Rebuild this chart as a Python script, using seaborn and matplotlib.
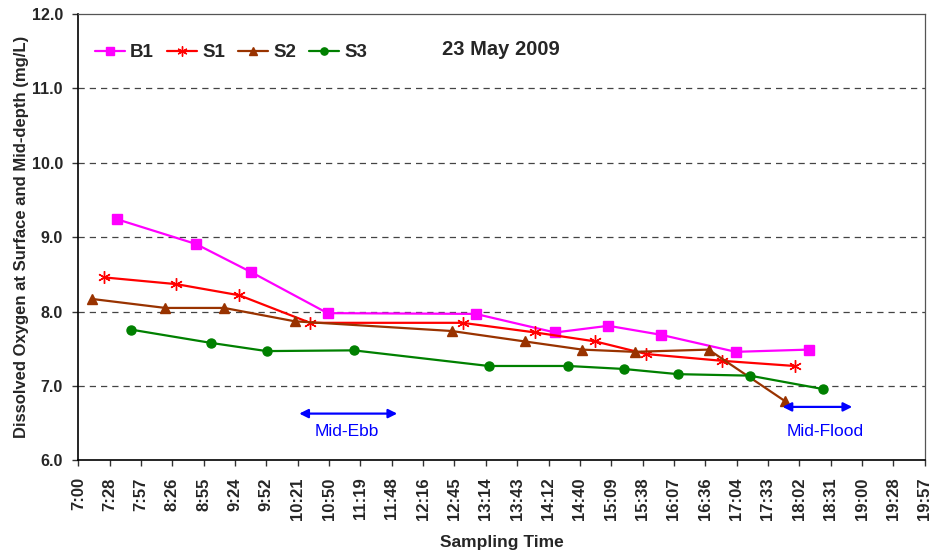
import numpy as np
import pandas as pd
import seaborn as sns
import matplotlib.pyplot as plt

sns.set_style("white")
plt.rcParams['font.family'] = ['Liberation Sans', 'DejaVu Sans']

# sampling times and dissolved oxygen (mg/L) per station
b1_time = ["7:36", "8:48", "9:39", "10:49", "13:05", "14:18", "15:07", "15:55", "17:04", "18:11"]
b1_do = [9.24, 8.91, 8.53, 7.98, 7.97, 7.72, 7.81, 7.69, 7.46, 7.49]
s1_time = ["7:24", "8:30", "9:28", "10:33", "12:53", "14:00", "14:55", "15:42", "16:51", "17:58"]
s1_do = [8.46, 8.37, 8.22, 7.85, 7.85, 7.72, 7.60, 7.43, 7.34, 7.27]
s2_time = ["7:13", "8:20", "9:14", "10:19", "12:43", "13:50", "14:43", "15:31", "16:39", "17:49"]
s2_do = [8.17, 8.05, 8.05, 7.87, 7.74, 7.60, 7.49, 7.46, 7.49, 6.80]
s3_time = ["7:48", "9:02", "9:53", "11:13", "13:17", "14:30", "15:21", "16:11", "17:17", "18:24"]
s3_do = [7.76, 7.58, 7.47, 7.48, 7.27, 7.27, 7.23, 7.16, 7.14, 6.96]

tick_labels = ["7:00", "7:28", "7:57", "8:26", "8:55", "9:24", "9:52", "10:21", "10:50",
               "11:19", "11:48", "12:16", "12:45", "13:14", "13:43", "14:12", "14:40",
               "15:09", "15:38", "16:07", "16:36", "17:04", "17:33", "18:02", "18:31",
               "19:00", "19:28", "19:57"]


def to_min(t):
    h, m = t.split(":")
    return (int(h) - 7) * 60 + int(m)


series = [("B1", b1_time, b1_do, "#FF00FF", "s", 6.5),
          ("S1", s1_time, s1_do, "#FF0000", (6, 2, 0), 9),
          ("S2", s2_time, s2_do, "#993300", "^", 7),
          ("S3", s3_time, s3_do, "#008000", "o", 6.5)]

fig = plt.figure(figsize=(9.35, 5.56), dpi=100)
ax = fig.add_axes([0.0837, 0.1718, 0.9053, 0.803])

for name, times, vals, col, mk, ms in series:
    d = pd.DataFrame({"minutes": [to_min(t) for t in times], "DO": vals})
    sns.lineplot(data=d, x="minutes", y="DO", color=col, marker=mk, markersize=ms,
                 markeredgecolor=col, markeredgewidth=1.0, linewidth=1.6,
                 sort=False, label=name, ax=ax)

tick_pos = np.arange(len(tick_labels)) * 28.8
ax.set_xlim(0, tick_pos[-1])
ax.set_ylim(6.0, 12.0)
ax.set_xticks(tick_pos)
ax.set_xticklabels(tick_labels, rotation=90, fontsize=12, fontweight="bold")
yt = np.arange(6.0, 12.01, 1.0)
ax.set_yticks(yt)
ax.set_yticklabels([f"{v:.1f}" for v in yt], fontsize=11.5, fontweight="bold")
ax.tick_params(axis="x", direction="out", length=4, width=1, color="#333333",
               bottom=True, pad=8)
ax.tick_params(axis="y", direction="out", length=4, width=1, color="#333333",
               left=True, pad=7)

for yv in [7, 8, 9, 10, 11]:
    ax.axhline(yv, color="#444444", linestyle=(0, (5, 4)), linewidth=0.9, zorder=0)

for side in ["left", "bottom"]:
    ax.spines[side].set_color("black")
    ax.spines[side].set_linewidth(1.2)
for side in ["top", "right"]:
    ax.spines[side].set_color("#555555")
    ax.spines[side].set_linewidth(0.9)

ax.set_xlabel("Sampling Time", fontsize=12.5, fontweight="bold", labelpad=11)
ax.set_ylabel("Dissolved Oxygen at Surface and Mid-depth (mg/L)", fontsize=12,
              fontweight="bold", labelpad=2)

# tide annotations
ax.annotate("", xy=(203, 6.63), xytext=(293, 6.63),
            arrowprops=dict(arrowstyle="<|-|>", color="#0000FF", lw=1.6,
                            mutation_scale=13, shrinkA=0, shrinkB=0))
ax.text(247, 6.39, "Mid-Ebb", color="#0000FF", fontsize=12.5, ha="center", va="center")
ax.annotate("", xy=(647, 6.72), xytext=(711, 6.72),
            arrowprops=dict(arrowstyle="<|-|>", color="#0000FF", lw=1.6,
                            mutation_scale=13, shrinkA=0, shrinkB=0))
ax.text(686, 6.39, "Mid-Flood", color="#0000FF", fontsize=12.5, ha="center", va="center")

ax.text(0.4994, 0.9216, "23 May 2009", transform=ax.transAxes, fontsize=14.5,
        fontweight="bold", ha="center", va="center")

leg = ax.legend(loc="center left", bbox_to_anchor=(0.0197, 0.913),
                ncol=4, frameon=False, fontsize=13.5, handlelength=1.6,
                handletextpad=0.27, columnspacing=0.7, markerscale=0.8,
                borderpad=0, borderaxespad=0)
for t in leg.get_texts():
    t.set_fontweight("bold")

fig.savefig("out.png", dpi=100)
